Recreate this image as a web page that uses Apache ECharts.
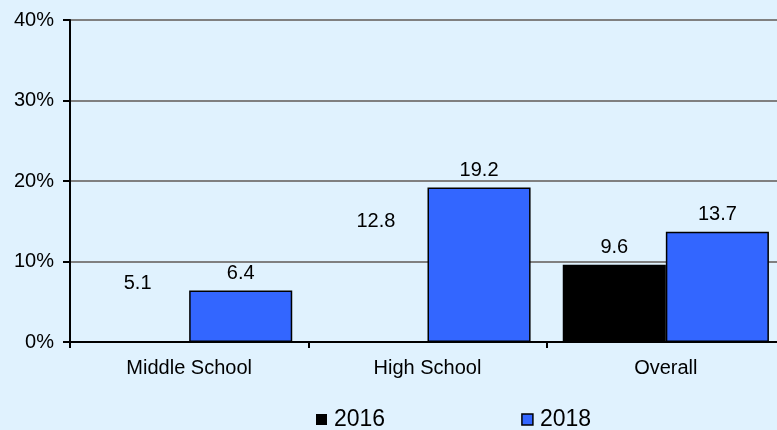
<!DOCTYPE html>
<html>
<head>
<meta charset="utf-8">
<style>
  html, body { margin: 0; padding: 0; background: #e0f2fe; }
  #container { width: 777px; height: 430px; }
</style>
<script src="https://cdn.jsdelivr.net/npm/echarts@6/dist/echarts.min.js"></script>
</head>
<body>
<div id="container"></div>
<script>
var categories = ['Middle School', 'High School', 'Overall'];
var values2016 = [5.1, 12.8, 9.6];
var values2018 = [6.4, 19.2, 13.7];
// in the source only the Overall 2016 bar is filled in, the others show just a label
var filled2016 = [false, false, true];

var dom = document.getElementById('container');
var myChart = echarts.init(dom, null, { renderer: 'canvas' });

var font = 'Liberation Sans, Arial, sans-serif';

var option = {
  backgroundColor: '#e0f2fe',
  textStyle: { fontFamily: font },
  grid: { left: 70, top: 20, width: 715, height: 322, outerBoundsMode: 'none', containLabel: false },
  legend: {
    left: 316,
    top: 408,
    padding: 0,
    itemWidth: 11,
    itemHeight: 11,
    itemGap: 136,
    icon: 'rect',
    textStyle: { fontSize: 23, color: '#000', fontFamily: font, padding: [0, 0, 0, 2] },
    data: [
      { name: '2016', itemStyle: { color: '#000', borderWidth: 0 } },
      { name: '2018', itemStyle: { color: '#3366ff', borderColor: '#000', borderWidth: 1.5 } }
    ]
  },
  xAxis: {
    type: 'category',
    data: categories,
    axisLine: { lineStyle: { color: '#000', width: 2 } },
    axisTick: { show: true, length: 6, lineStyle: { color: '#000', width: 2 } },
    axisLabel: { color: '#000', fontSize: 20, margin: 16 }
  },
  yAxis: {
    type: 'value',
    min: 0,
    max: 40,
    interval: 10,
    axisLine: { show: true, lineStyle: { color: '#000', width: 2 } },
    axisTick: { show: true, length: 7, lineStyle: { color: '#000', width: 2 } },
    axisLabel: { color: '#000', fontSize: 20, margin: 16, formatter: '{value}%' },
    splitLine: { lineStyle: { color: '#808080', width: 2 } }
  },
  series: [
    {
      name: '2016',
      type: 'bar',
      barGap: '0%',
      barCategoryGap: '13.5%',
      data: values2016.map(function (v, i) {
        return {
          value: v,
          itemStyle: filled2016[i] ? { color: '#000' } : { color: 'transparent', borderWidth: 0 }
        };
      }),
      itemStyle: { color: '#000' },
      label: { show: true, position: 'top', distance: 7, color: '#000', fontSize: 20, fontFamily: font }
    },
    {
      name: '2018',
      type: 'bar',
      data: values2018,
      itemStyle: { color: '#3366ff', borderColor: '#000', borderWidth: 1.5 },
      label: { show: true, position: 'top', distance: 7, color: '#000', fontSize: 20, fontFamily: font }
    }
  ]
};

myChart.setOption(option);
window.addEventListener('resize', myChart.resize);
</script>
</body>
</html>
